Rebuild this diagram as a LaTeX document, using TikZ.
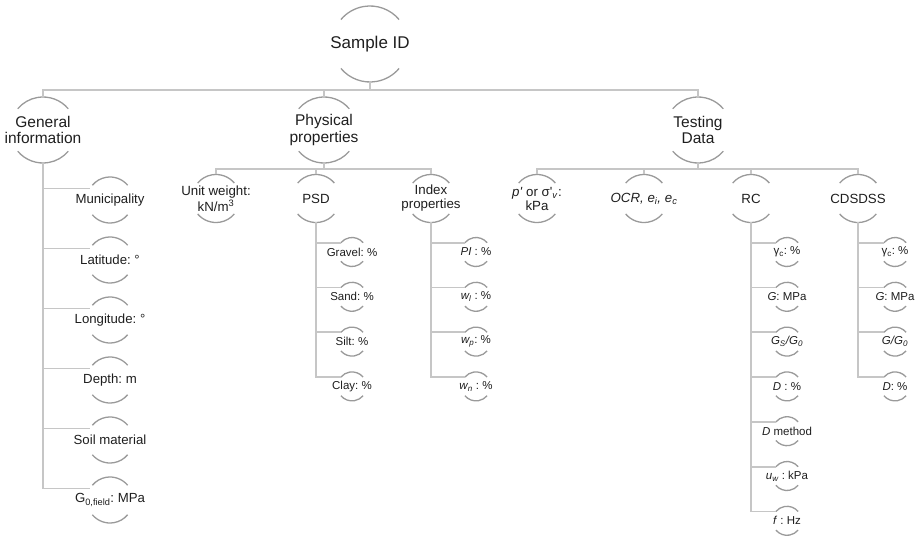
\documentclass[tikz,border=0pt]{standalone}
\usepackage{fontspec}
\setmainfont{Liberation Sans}
\usetikzlibrary{calc}
\frenchspacing
\definecolor{arcgray}{HTML}{9A9A9A}
\definecolor{linegray}{HTML}{C6C6C6}
\definecolor{txtcol}{HTML}{1E1E1E}
\tikzset{
  arcline/.style={draw=arcgray, line width=1.3pt},
  conn/.style={draw=linegray, line width=1.8pt},
  txt/.style={inner sep=0pt, outer sep=0pt, align=center, text=txtcol},
}
% name, x, y(down), radius, font, text, branch angle
\newcommand\gnode[7]{%
  \node[txt, font=#5] (#1) at (#2,-#3) {#6};
  \coordinate (#1n) at ($(#2,-#3)+(0,#4)$);
  \coordinate (#1s) at ($(#2,-#3)+(0,-#4)$);
  \coordinate (#1w) at ($(#2,-#3)+(#7:#4)$);
  \draw[arcline] ($(#2,-#3)+(40:#4)$) arc[start angle=40,end angle=140,radius=#4];
  \draw[arcline] ($(#2,-#3)+(220:#4)$) arc[start angle=220,end angle=320,radius=#4];
}
\newcommand\fA{\fontsize{17}{19}\selectfont}
\newcommand\fB{\fontsize{15.5}{16.5}\selectfont}
\newcommand\fC{\fontsize{13.3}{14}\selectfont}
\newcommand\fD{\fontsize{13.2}{14}\selectfont}
\newcommand\fE{\fontsize{11.5}{13}\selectfont}
\begin{document}
\begin{tikzpicture}[x=1pt,y=1pt]
\useasboundingbox (0,0) rectangle (917,-537);
\coordinate (barA) at (0,-90);
\coordinate (barB) at (0,-169);
% root and level 1
\gnode{sid}{370}{44}{38}{\fA}{Sample ID}{180}
\gnode{gi}{43}{130}{33}{\fB}{General\\information}{180}
\gnode{pp}{324}{130}{33}{\fB}{Physical\\properties}{180}
\gnode{td}{698}{130}{33}{\fB}{Testing\\Data}{180}
% level 2
\gnode{uw}{216}{198.5}{24}{\fC}{Unit weight:\\[1pt]kN/m\textsuperscript{3}}{180}
\gnode{psd}{316}{198.5}{24}{\fC}{PSD}{180}
\gnode{ip}{431}{198.5}{24}{\fC}{Index\\properties}{180}
\gnode{pk}{537}{198.5}{24}{\fC}{\textit{p\textquotesingle} or σ\textquotesingle\textsubscript{\textit{v}}:\\kPa}{180}
\gnode{ocr}{644}{198.5}{24}{\fC}{\textit{OCR, e\textsubscript{i}, e\textsubscript{c}}}{180}
\gnode{rc}{751}{198.5}{24}{\fC}{RC}{180}
\gnode{cd}{858}{198.5}{24}{\fC}{CDSDSS}{180}
% general information leaves
\gnode{g1}{110}{200}{23}{\fD}{Municipality}{150}
\gnode{g2}{110}{260}{23}{\fD}{Latitude: °}{150}
\gnode{g3}{110}{320}{23}{\fD}{Longitude: °}{150}
\gnode{g4}{110}{380}{23}{\fD}{Depth: m}{150}
\gnode{g5}{110}{440}{23}{\fD}{Soil material}{150}
\gnode{g6}{110}{500}{23}{\fD}{G\textsubscript{0,field}: MPa}{150}
% PSD leaves
\gnode{s1}{352}{252}{14.5}{\fE}{Gravel: \%}{140}
\gnode{s2}{352}{296.8}{14.5}{\fE}{Sand: \%}{140}
\gnode{s3}{352}{341.6}{14.5}{\fE}{Silt: \%}{140}
\gnode{s4}{352}{386.4}{14.5}{\fE}{Clay: \%}{140}
% Index leaves
\gnode{i1}{476}{252}{14.5}{\fE}{\textit{PI} : \%}{140}
\gnode{i2}{476}{296.8}{14.5}{\fE}{\textit{w\textsubscript{l}} : \%}{140}
\gnode{i3}{476}{341.6}{14.5}{\fE}{\textit{w\textsubscript{p}}: \%}{140}
\gnode{i4}{476}{386.4}{14.5}{\fE}{\textit{w\textsubscript{n}} : \%}{140}
% RC leaves
\gnode{r1}{787}{252}{14.5}{\fE}{γ\textsubscript{c}: \%}{140}
\gnode{r2}{787}{296.8}{14.5}{\fE}{\textit{G}: MPa}{140}
\gnode{r3}{787}{341.6}{14.5}{\fE}{\textit{G\textsubscript{S}/G\textsubscript{0}}}{140}
\gnode{r4}{787}{386.4}{14.5}{\fE}{\textit{D} : \%}{140}
\gnode{r5}{787}{431.2}{14.5}{\fE}{\textit{D} method}{140}
\gnode{r6}{787}{476}{14.5}{\fE}{\textit{u\textsubscript{w}} : kPa}{140}
\gnode{r7}{787}{520.8}{14.5}{\fE}{\textit{f} : Hz}{140}
% CDSDSS leaves
\gnode{c1}{895}{252}{14.5}{\fE}{γ\textsubscript{c}: \%}{140}
\gnode{c2}{895}{296.8}{14.5}{\fE}{\textit{G}: MPa}{140}
\gnode{c3}{895}{341.6}{14.5}{\fE}{\textit{G/G\textsubscript{0}}}{140}
\gnode{c4}{895}{386.4}{14.5}{\fE}{\textit{D}: \%}{140}
% connectors: top level
\draw[conn] (gin) -- (gin |- barA) -- (tdn |- barA) -- (tdn);
\draw[conn] (sids) -- (sids |- barA);
\draw[conn] (ppn) -- (ppn |- barA);
% physical properties bar
\draw[conn] (pps) -- (pps |- barB);
\draw[conn] (uwn) -- (uwn |- barB) -- (ipn |- barB) -- (ipn);
\draw[conn] (psdn) -- (psdn |- barB);
% testing data bar
\draw[conn] (tds) -- (tds |- barB);
\draw[conn] (pkn) -- (pkn |- barB) -- (cdn |- barB) -- (cdn);
\draw[conn] (ocrn) -- (ocrn |- barB);
\draw[conn] (rcn) -- (rcn |- barB);
% general information trunk
\draw[conn] (gis) |- (g6w);
\foreach \k in {1,...,5} \draw[conn] (gis |- g\k w) -- (g\k w);
% PSD trunk
\draw[conn] (psds) |- (s4w);
\foreach \k in {1,2,3} \draw[conn] (psds |- s\k w) -- (s\k w);
% Index trunk
\draw[conn] (ips) |- (i4w);
\foreach \k in {1,2,3} \draw[conn] (ips |- i\k w) -- (i\k w);
% RC trunk
\draw[conn] (rcs) |- (r7w);
\foreach \k in {1,...,6} \draw[conn] (rcs |- r\k w) -- (r\k w);
% CDSDSS trunk
\draw[conn] (cds) |- (c4w);
\foreach \k in {1,2,3} \draw[conn] (cds |- c\k w) -- (c\k w);
\end{tikzpicture}
\end{document}
